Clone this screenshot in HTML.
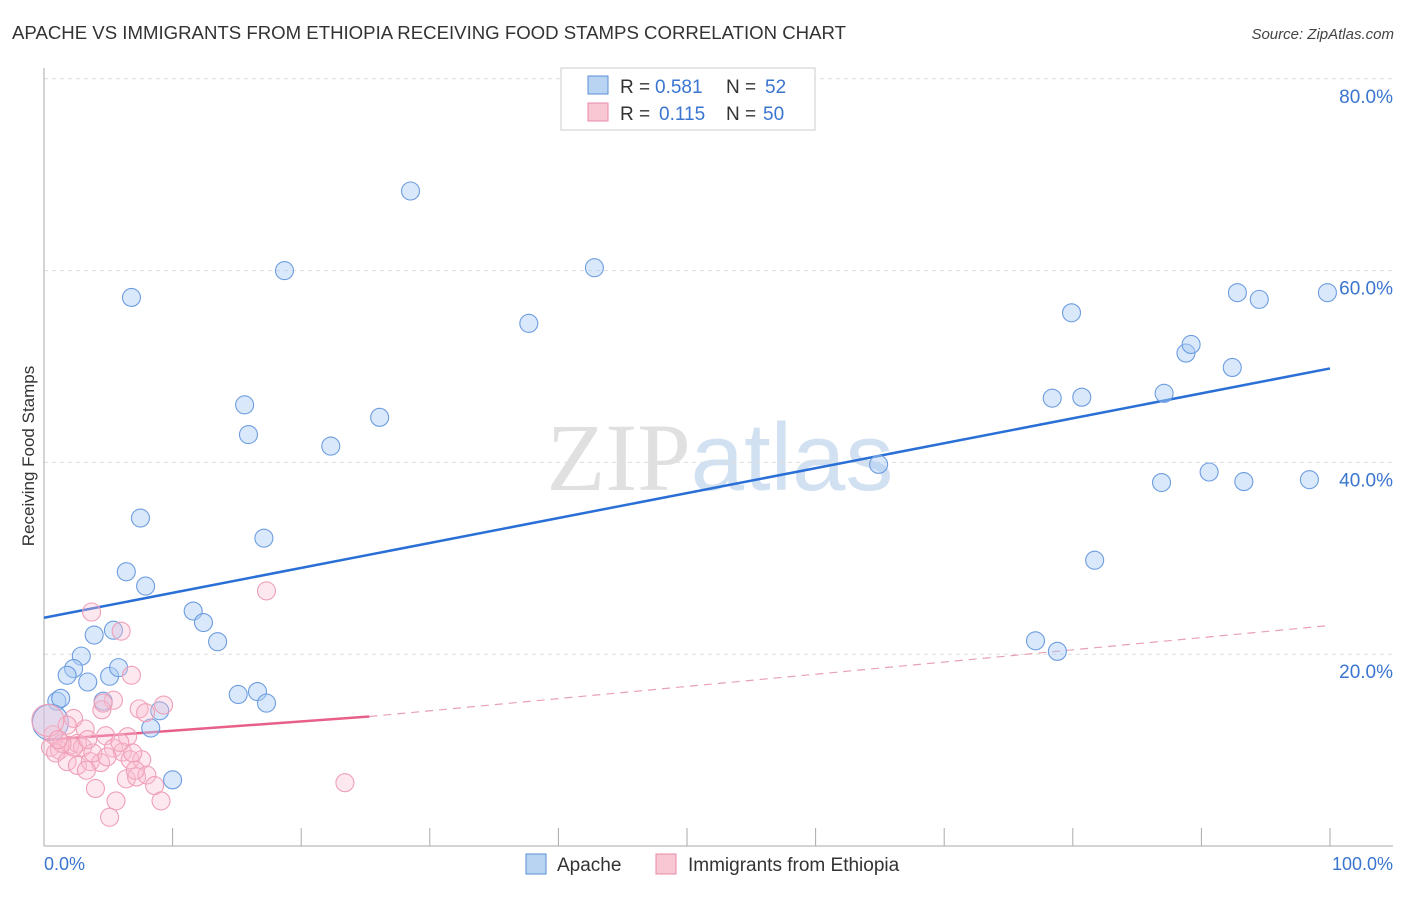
<!DOCTYPE html>
<html><head><meta charset="utf-8"><style>
body{margin:0;background:#fff;font-family:"Liberation Sans",sans-serif;}
svg text{font-family:"Liberation Sans",sans-serif;}
</style></head><body>
<svg id="chart" width="1406" height="892" xmlns="http://www.w3.org/2000/svg">
<text x="12" y="39" font-size="18.5" fill="#333" textLength="834" lengthAdjust="spacingAndGlyphs">APACHE VS IMMIGRANTS FROM ETHIOPIA RECEIVING FOOD STAMPS CORRELATION CHART</text>
<text x="1394" y="39" font-size="15" fill="#444" text-anchor="end" font-style="italic">Source: ZipAtlas.com</text>
<text x="720" y="490" font-size="96" text-anchor="middle"><tspan font-family="Liberation Serif" fill="#e0e0e0">ZIP</tspan><tspan fill="#d2e1f2">atlas</tspan></text>
<g id="grid"></g>
<g id="axes"></g>
<g id="lines"></g>
<g id="pts"></g>
<text transform="translate(34,456) rotate(-90)" font-size="17" fill="#333" text-anchor="middle">Receiving Food Stamps</text>
<g>
<rect x="561" y="68" width="254" height="62" fill="#fff" stroke="#ccc"/>
<rect x="588" y="76" width="20" height="18" fill="#b9d3f3" stroke="#5b8fd6"/>
<rect x="588" y="103" width="20" height="18" fill="#f9c6d4" stroke="#e88aa6"/>
<text x="620" y="93" font-size="19" fill="#333">R =</text>
<text x="655" y="93" font-size="19" fill="#3a75d0">0.581</text>
<text x="726" y="93" font-size="19" fill="#333">N =</text>
<text x="765" y="93" font-size="19" fill="#3a75d0">52</text>
<text x="620" y="120" font-size="19" fill="#333">R =</text>
<text x="659" y="120" font-size="19" fill="#3a75d0">0.115</text>
<text x="726" y="120" font-size="19" fill="#333">N =</text>
<text x="763" y="120" font-size="19" fill="#3a75d0">50</text>
</g>
<g>
<rect x="526" y="854" width="20" height="20" fill="#b9d3f3" stroke="#5b8fd6"/>
<text x="557" y="871" font-size="19" fill="#333">Apache</text>
<rect x="656" y="854" width="20" height="20" fill="#f9c6d4" stroke="#e88aa6"/>
<text x="688" y="871" font-size="19" fill="#333">Immigrants from Ethiopia</text>
</g>
</svg>
<script>
const blueX=[28.5,18.7,42.8,6.8,37.7,15.6,15.9,26.1,22.3,7.5,17.1,6.4,7.9,11.6,12.4,13.5,3.9,5.4,2.9,2.3,1.8,3.4,5.1,5.8,1.0,1.3,4.6,9.0,8.3,15.1,16.6,17.3,10.0,0.5,64.9,79.9,78.4,80.7,81.7,77.1,78.8,86.9,87.1,88.8,89.2,90.6,92.4,92.8,94.5,93.3,98.4,99.8];
const blueY=[68.3,60.0,60.3,57.2,54.5,46.0,42.9,44.7,41.7,34.2,32.1,28.6,27.1,24.5,23.3,21.3,22.0,22.5,19.8,18.5,17.8,17.1,17.7,18.6,15.1,15.4,15.1,14.1,12.3,15.8,16.1,14.9,6.9,12.9,39.8,55.6,46.7,46.8,29.8,21.4,20.3,37.9,47.2,51.4,52.3,39.0,49.9,57.7,57.0,38.0,38.2,57.7];
const pinkX=[3.7,6.0,17.3,6.8,5.4,4.5,4.6,7.4,7.9,9.3,2.3,1.8,3.2,4.8,6.5,0.7,0.5,1.2,2.0,2.6,3.0,0.9,1.8,2.6,3.6,4.4,3.3,5.4,6.1,6.7,7.6,6.9,6.4,7.2,8.0,8.6,4.0,5.6,9.1,5.1,23.4,3.8,4.9,0.3,2.3,1.4,1.1,3.4,5.9,7.1];
const pinkY=[24.4,22.4,26.6,17.8,15.2,14.2,14.9,14.3,13.9,14.7,13.3,12.6,12.2,11.5,11.4,11.6,10.3,10.0,10.5,10.7,10.3,9.7,8.8,8.4,8.8,8.7,7.9,10.2,9.8,9.0,9.0,9.7,7.0,7.2,7.4,6.3,6.0,4.7,4.7,3.0,6.6,9.7,9.3,13.1,10.3,10.7,11.1,11.1,10.8,7.9];
const yTicks=[20,40,60,80];
const yTickLabels=["20.0%","40.0%","60.0%","80.0%"];
const blueTrend=[[0,23.8],[100,49.8]];
const pinkTrend=[[0,11.05],[25.3,13.5],[100,23.0]];
const X=v=>44+v*12.86, Y=v=>846-v*9.59;
const NS="http://www.w3.org/2000/svg";
function mk(p,t,a){const e=document.createElementNS(NS,t);for(const k in a)e.setAttribute(k,a[k]);document.getElementById(p).appendChild(e);return e;}
yTicks.forEach((t,i)=>{
 const g=mk('grid','line',{x1:44,x2:1393,y1:Y(t),y2:Y(t),stroke:'#ddd','stroke-dasharray':'4,4'});
 
 
 const l=mk('grid','text',{x:1393,y:Y(t)+24,'text-anchor':'end','font-size':19,fill:'#3a75d0'});
 l.textContent=yTickLabels[i];
 
 
});
mk('axes','line',{x1:44,x2:44,y1:68,y2:846,stroke:'#aaa'});
mk('axes','line',{x1:44,x2:1393,y1:846,y2:846,stroke:'#aaa'});
for(let i=0;i<=10;i++){mk('axes','line',{x1:X(i*10),x2:X(i*10),y1:828,y2:846,stroke:'#aaa'});}
const x0=mk('axes','text',{x:44,y:870,'font-size':18,fill:'#3a75d0'});x0.textContent='0.0%';


const x1=mk('axes','text',{x:1393,y:870,'font-size':18,fill:'#3a75d0','text-anchor':'end'});x1.textContent='100.0%';


blueX.forEach((v,i)=>{const c=mk('pts','circle',{cx:X(v),cy:Y(blueY[i]),r:i==33?18:9,fill:'rgba(170,203,243,0.45)',stroke:'#6d9de0','stroke-width':1.1});
 
 });
pinkX.forEach((v,i)=>{const c=mk('pts','circle',{cx:X(v),cy:Y(pinkY[i]),r:i==43?16:9,fill:'rgba(248,190,208,0.35)',stroke:'#efa0b8','stroke-width':1.1});
 
 });
const bl=mk('lines','line',{x1:X(blueTrend[0][0]),y1:Y(blueTrend[0][1]),x2:X(blueTrend[1][0]),y2:Y(blueTrend[1][1]),stroke:'#2a6fd6','stroke-width':2.5});


const pl=mk('lines','line',{x1:X(pinkTrend[0][0]),y1:Y(pinkTrend[0][1]),x2:X(pinkTrend[1][0]),y2:Y(pinkTrend[1][1]),stroke:'#e8608a','stroke-width':2.5});


const pd=mk('lines','line',{x1:X(pinkTrend[1][0]),y1:Y(pinkTrend[1][1]),x2:X(pinkTrend[2][0]),y2:Y(pinkTrend[2][1]),stroke:'#e8a0b6','stroke-width':1.2,'stroke-dasharray':'8,6'});


</script>
</body></html>
